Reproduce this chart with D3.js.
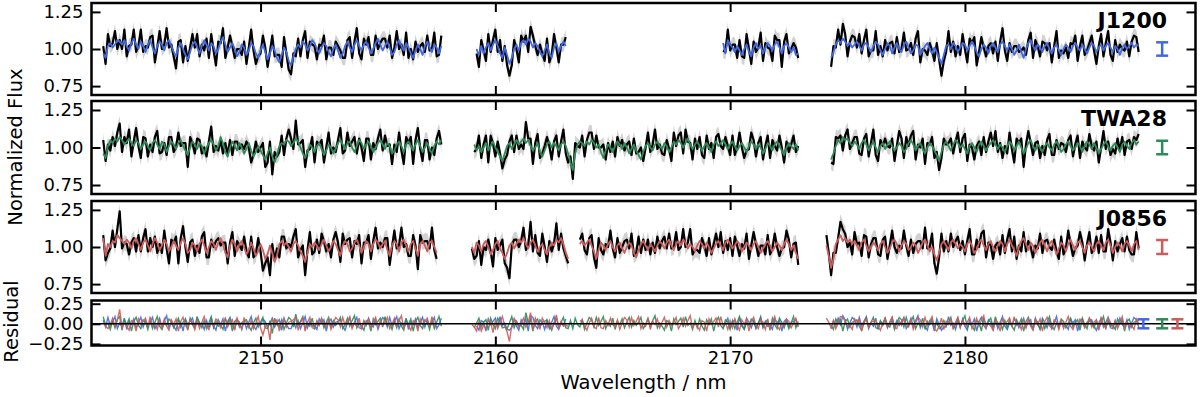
<!DOCTYPE html>
<html>
<head>
<meta charset="utf-8">
<script src="https://cdn.jsdelivr.net/npm/d3@7"></script>
<style>
  body { margin: 0; background: #fff; }
  svg { display: block; }
  text { font-family: "DejaVu Sans", sans-serif; }
</style>
</head>
<body>
<div id="chart"></div>
<script>
// spectra sampled every 0.1 nm from each segment start
// values are percent deviation from 1 (flux = 1 + v/100)
const step = 0.1;

// ---- J1200 ----
const j1200Starts = [2143.3, 2159.2, 2169.7, 2174.3];
const j1200Flux = [
  [2,-10,10,2,4,12,0,6,0,13, -5,2,3,13,-2,2,13,-2,2,1, 8,9,-9,1,12,0,3,14,1,3,
   -5,-13,5,6,-9,2,-8,1,10,1, 10,-5,3,-1,7,-6,10,-1,-11,5, 4,14,-6,1,9,2,-6,0,0,-4,
   5,-10,1,13,-1,-10,-5,-3,9,1, -12,-2,9,-5,-4,-4,-12,8,-3,-14, -17,-3,-5,7,-5,6,12,-6,5,3,
   2,-7,3,2,9,-7,1,1,-4,5, 2,-1,-6,-6,6,8,-6,5,14,-3, -7,7,3,8,-4,-4,9,0,4,7,
   7,1,9,-6,1,12,0,3,-4,11, -6,0,-7,5,-2,2,4,-2,9,-1, 0,11,-5,-4,9],
  [-3,-12,6,-1,-8,10,-2,6,13,-2, 6,-8,2,-11,-18,-11,6,0,-9,9, 5,9,-2,15,9,2,-4,3,-3,-8,
   7,-9,-4,10,1,-9,3,3,8],
  [-1,-2,13,-1,3,3,-6,6,-5,-6, 10,0,-10,5,-2,1,11,-8,4,1, 0,-8,9,6,6,-12,5,10,-3,0, 4,1,-6],
  [-12,2,1,13,3,17,10,-5,5,9, 8,1,10,-3,6,13,-5,-1,-1,12, -4,2,-5,6,-1,4,5,-3,8,-2,
   0,11,-1,0,4,-4,7,12,-9,0, -1,-4,4,-1,-8,4,-7,-18,-8,-2, 12,-2,5,-5,2,-4,10,0,-9,7,
   4,8,-11,-2,8,1,-5,2,4,-3, 5,-8,5,14,-1,-8,4,-2,2,2, -2,-1,1,-4,6,11,-6,6,2,-5,
   5,4,-1,4,-9,2,12,-6,-1,-3, 1,-6,4,3,9,-8,2,9,-4,-1, 4,9,-1,-10,2,10,-5,4,12,-4,
   -8,6,-2,3,0,-1,5,-5,5,9, 8,-2]
];
const j1200Model = [
  [-3,-6,2,4,1,3,6,5,3,6, 2,-1,4,7,3,0,5,2,-2,3, 6,1,-3,2,5,3,-1,4,6,2,
   -2,-5,1,4,0,-4,-7,-2,3,5, 1,-3,2,6,3,-1,4,2,-3,0, 5,8,3,-2,1,4,0,-5,-2,3,
   1,-4,-1,4,2,-3,-6,-1,3,-2, -7,-3,2,-1,-6,-9,-4,1,-2,-8, -11,-5,0,3,1,5,3,-1,2,6,
   4,0,-3,1,4,2,-2,-5,0,3, -1,-6,-3,2,5,1,-2,3,6,2, -1,3,5,1,-3,0,4,7,3,-1,
   2,5,1,-4,-2,3,6,2,-1,4, 1,-3,-6,-1,3,0,-4,2,5,1, -2,3,1,-3,2],
  [0,-4,2,-3,1,4,-1,3,6,2, -3,-6,1,-4,-10,-6,0,3,-1,4, 6,3,7,5,1,4,2,-2,-5,-1,
   3,-3,-6,1,4,-2,2,5,2],
  [4,-3,6,3,1,-2,2,-1,-4,0, 3,-2,-5,1,4,0,2,-3,1,4, 2,-1,3,5,1,-3,2,4,1,-2, 1,-4,-3],
  [-6,-2,3,6,4,7,5,2,4,1, 3,5,2,-1,3,4,1,-2,2,5, 3,-1,-4,0,4,2,-3,1,4,0,
   -2,3,5,1,-3,-1,3,2,-4,-1, 2,4,0,-3,1,-2,-6,-10,-4,2, 3,0,4,2,-2,1,4,3,-1,2,
   5,2,-2,-5,0,3,1,-3,2,4, 1,-2,3,5,2,-1,3,0,-4,-1, 3,-2,-6,0,4,6,2,-1,3,1,
   -2,2,4,0,-3,1,3,-1,-4,0, 3,1,-2,2,4,1,-1,3,0,-3, 1,4,2,-2,1,3,-1,2,4,1,
   -2,2,0,-4,1,3,0,2,4,1, 3,2]
];

// ---- TWA28 ----
const twa28Starts = [2143.3, 2159.1, 2174.3];
const twa28Flux = [
  [5,-9,2,-2,7,1,10,16,-3,7, 3,12,-6,4,13,1,-7,7,6,-6, 2,-3,7,11,-4,-3,3,-5,7,7,
   -3,0,10,1,3,3,-13,7,3,-4, 6,5,-4,0,-6,4,14,-3,1,-2, 5,-4,3,-5,5,-5,4,4,-1,2,
   -1,4,0,-10,-5,4,-3,0,3,-13, -10,4,-18,-3,-6,-3,8,-5,6,12, 6,-1,18,2,3,5,-13,-2,-1,7,
   -10,4,2,5,-10,0,10,-4,0,-3, 5,13,-4,-2,10,1,4,7,-4,6, 0,-9,6,6,-8,3,-1,6,12,-2,
   8,1,2,-11,2,-3,10,-2,-11,7, 3,7,-11,5,13,-1,-9,5,5,-8, 0,-5,6,11,2],
  [-3,-1,8,-7,2,8,-10,8,3,-6, 4,-4,-14,-8,-5,4,8,-3,8,-1, 2,-1,17,6,6,-11,3,9,-7,-4,
   1,7,1,-8,4,8,-6,4,12,-4, -10,-6,-21,3,1,0,8,-6,5,10, 10,-1,8,0,0,2,-8,3,-3,4,
   -6,7,1,5,-2,2,4,-5,6,-4, -3,0,-9,0,10,-3,2,12,-1,2, -4,-5,5,-1,-9,10,1,8,10,-4,
   12,4,3,-8,6,-1,7,-5,-7,8, -1,3,-7,7,9,1,-1,7,1,-5, 8,-5,0,10,0,-7,-2,-1,10,5,
   -6,3,7,-8,1,8,-7,5,1,-2, 8,0,-10,4,-3,2,8,-3,1],
  [-10,-11,7,6,8,-2,8,12,-1,3, 7,7,-4,-5,6,9,-6,3,12,-5, -9,5,1,6,1,0,6,-9,1,11,
   6,-7,7,1,8,11,-8,2,0,6, -11,3,2,7,-7,-3,-15,-7,6,2, 3,6,-4,4,10,-3,6,9,-9,2,
   0,-8,1,4,-5,7,-3,4,10,1, 11,-3,3,-7,1,-4,10,-1,-10,6, 3,6,-13,2,11,3,-5,3,4,-7,
   1,-5,5,9,-5,-5,5,-1,3,2, -3,5,8,-6,2,8,-7,4,0,-2, 9,1,-2,4,-10,0,11,-1,4,-5,
   -1,-4,6,-2,7,-5,4,5,-1,7, 5,9]
];
const twa28Model = [
  [-4,-7,1,5,3,6,4,7,5,2, 4,6,3,1,5,3,-1,2,4,1, -2,3,5,2,-1,4,2,-3,1,4,
   2,-1,3,5,1,-2,-5,0,4,2, -1,3,1,-4,0,3,5,2,-2,1, 7,3,-3,-6,0,4,1,-2,3,0,
   -4,-1,3,-2,-6,-3,1,-2,-5,-8, -4,0,-6,-10,-5,1,3,2,5,4, 1,3,6,4,0,-4,-7,-3,2,0,
   -3,1,3,-1,-5,-2,2,0,-4,-1, 3,5,2,-1,3,4,0,-3,1,5, 3,-1,2,4,1,-3,0,3,5,2,
   -1,3,1,-4,-2,2,4,1,-3,2, 4,1,-2,2,5,1,-3,0,3,-1, -4,1,4,2,5],
  [2,-2,1,-3,0,3,-2,1,4,0, -3,-6,-9,-4,1,3,-1,2,5,2, 4,6,3,5,1,-2,0,3,-3,-6,
   -2,2,4,0,3,1,-2,2,4,1, -4,-10,-15,-4,2,4,3,1,4,2, 5,3,0,2,-3,-7,-2,2,0,-3,
   1,4,2,-1,3,0,-4,-1,2,-2, -5,-8,-3,1,3,0,-2,2,4,1, -1,3,1,-3,0,4,2,5,3,0,
   3,6,2,-1,2,4,1,-2,1,3, 0,-3,2,4,1,3,5,2,-1,2, 4,1,-2,1,3,0,-3,1,4,2,
   -1,2,0,-4,-1,3,1,-2,2,4, 1,-2,-5,0,3,1,-1,2,-2],
  [-8,-4,1,5,3,7,5,6,3,1, 4,2,-1,3,5,2,-2,1,4,0, -3,1,3,-1,2,4,1,-2,0,3,
   1,-3,-1,3,5,2,-2,1,3,-1, -4,0,3,1,-2,-5,-9,-3,2,4, 1,-2,2,5,3,0,2,-1,-4,1,
   3,0,-3,2,4,1,-2,1,3,5, 2,-1,2,0,-3,1,4,2,-2,1, 4,0,-4,-1,3,5,1,-2,2,0,
   -3,1,3,0,-2,2,4,1,-3,-1, 2,4,1,-2,0,3,1,-3,1,4, 2,-1,3,0,-4,-1,2,4,1,-2,
   1,3,0,-3,2,4,1,-1,3,5, 2,4]
];

// ---- J0856 ----
const j0856Starts = [2143.3, 2159.0, 2163.6, 2174.1];
const j0856Flux = [
  [8,-9,-4,-1,11,0,12,24,-1,3, 2,-5,3,6,-3,8,-3,6,12,-3, 6,0,7,-4,2,-4,11,-1,-11,5,
   3,7,-11,6,14,0,-10,3,5,-6, 1,-4,7,10,-7,-7,5,0,4,6, 1,3,3,-11,3,10,-6,4,1,-2,
   7,-3,-7,7,-7,-5,6,-3,-16,-11, -7,-19,2,-9,-1,-7,7,7,-1,2, 0,7,12,-7,-2,1,-19,-2,10,-5,
   -3,5,-4,9,4,-3,2,-7,5,10, 3,-10,9,2,5,6,-7,4,2,8, -11,3,3,8,-8,4,13,-1,3,0,
   6,6,-12,0,11,-1,1,13,0,2, -6,-6,8,1,-15,8,3,4,4,-1, 13,-2,-8],
  [-1,-8,-6,4,-12,0,-2,5,-3,-13, 6,-2,1,5,-11,-14,-21,1,5,5, 0,4,13,-2,1,17,-3,8,-4,-6,
   9,0,-10,4,-3,2,16,-2,9,-1, -6,-11],
  [5,9,-2,-5,6,8,-7,-14,6,-2, -5,2,0,11,-1,-7,6,-4,0,4, 5,-1,9,-6,-4,7,-4,5,-2,5,
   -5,3,-4,7,-1,4,7,-1,9,-1, 0,10,-2,0,12,0,3,12,-5,-2, -2,-4,6,1,-6,6,-5,2,9,0,
   10,-4,4,-2,6,-6,7,1,-6,2, -1,9,-8,1,10,2,-6,1,1,-5, 8,-5,-1,9,0,-6,-1,0,11,5,
   -7,2,3,-12],
  [8,-4,-19,-4,-4,6,17,12,9,0, 3,-5,10,2,3,-6,8,7,-7,2, 6,6,-5,-6,5,7,-8,1,11,0,
   -4,1,-1,11,1,-6,5,-4,2,4, 4,-1,13,-1,0,9,-11,-18,-7,9, -3,4,-3,9,0,4,7,-2,4,-5,
   4,12,-5,-5,5,0,9,11,-7,3, 1,-8,1,3,-5,8,-4,5,12,-3, 7,-8,1,-3,10,-3,4,0,-7,1,
   -1,9,-4,4,5,0,-2,5,-3,-8, 7,-5,-1,11,2,-6,-1,1,10,3, -9,2,10,-4,-1,7,-4,8,-3,-3,
   12,3,-9,4,-3,2,6,-3,7,-2, -5,-5,10,-1]
];
const j0856Model = [
  [6,-6,2,0,4,3,8,6,4,2, 5,3,-1,4,6,2,-2,3,5,1, -3,2,6,3,-2,1,5,2,-3,0,
   4,1,-2,3,6,2,-4,-2,3,1, -3,2,5,1,-4,0,4,2,-2,3, 6,2,-4,-7,1,5,2,-3,2,4,
   0,-5,-2,3,-1,-6,-3,2,-2,-8, -5,1,-4,-10,-6,2,4,1,3,0, -3,2,4,1,-3,-6,-10,-4,2,0,
   3,1,-2,2,5,1,-3,0,4,2, -2,-6,1,4,2,-3,-1,3,5,1, -4,0,4,2,-3,2,5,3,-1,2,
   4,-2,-6,1,4,2,-3,3,5,1, -3,2,4,-1,-6,2,4,1,-3,3, 4,0,-4],
  [0,-4,3,1,-3,2,4,0,-5,-2, 2,4,-1,-4,-8,-4,1,3,-1,2, 5,3,6,2,-1,3,5,1,-3,0,
   2,-2,-5,0,3,1,5,3,6,2, -4,-8],
  [2,4,1,3,5,1,-3,-8,-2,3, 1,-2,2,4,0,-3,1,3,-1,-4, 0,3,1,-4,-7,-2,2,4,1,-2,
   2,0,-3,1,4,2,-1,3,5,1, -2,2,4,1,5,3,-1,2,0,-3, 1,4,2,-1,3,0,-4,-1,2,4,
   1,-2,3,5,2,-1,1,4,2,-3, 0,3,1,-2,2,4,0,-4,-1,2, 4,1,-3,0,3,1,-2,2,5,2,
   -2,1,-4,-8],
  [1,-6,-14,-8,2,5,8,4,6,3, 5,2,4,1,-2,3,5,1,-3,0, 3,1,-2,2,4,0,-4,-1,3,5,
   2,-3,1,4,2,-2,0,3,1,-4, -1,3,5,1,-3,0,-5,-9,-4,2, 4,1,-2,3,5,2,-1,2,0,-3,
   2,4,1,-4,-2,3,5,1,-2,2, 4,0,-3,1,4,2,-3,2,5,1, -2,-6,0,4,6,2,-2,3,1,-4,
   0,3,5,1,-3,2,4,0,-5,-1, 3,1,-3,2,5,1,-2,3,4,0, -4,1,3,0,-3,2,4,1,-2,3,
   5,1,-4,0,3,1,-3,2,4,1, -3,2,4,-2]
];

// typical uncertainties read from the error bar glyphs and the grey bands
const names = ["J1200", "TWA28", "J0856"];
const bandErr = [0.05, 0.05, 0.052];
const fluxBarErr = [0.045, 0.045, 0.047];
const resBarErr = [0.056, 0.056, 0.056];
const fluxBarWave = 2188.4;
const resBarWaves = [2187.6, 2188.4, 2189.05];

const xTicks = [2150, 2160, 2170, 2180];
const fluxTicks = [0.75, 1.00, 1.25];
const resTicks = [-0.25, 0.00, 0.25];

const colors = ["#4169e1", "#2e8b57", "#cd5c5c"];

// build segment tables
function buildSegs(starts, flux, model) {
  return starts.map((s, k) => {
    const n = Math.min(flux[k].length, model[k].length);
    return d3.range(n).map(i => ({
      w: s + i * step,
      f: 1 + flux[k][i] / 100,
      m: 1 + model[k][i] / 100,
      r: (flux[k][i] - model[k][i]) / 100
    }));
  });
}
const objects = [
  buildSegs(j1200Starts, j1200Flux, j1200Model),
  buildSegs(twa28Starts, twa28Flux, twa28Model),
  buildSegs(j0856Starts, j0856Flux, j0856Model)
];

const width = 1200, height = 397;
const left = 91.5, right = 1195.5;
const panels = [
  { top: 3, bottom: 95 },
  { top: 101, bottom: 194 },
  { top: 201, bottom: 293 }
];
const resPanel = { top: 300.5, bottom: 345.5 };

const svg = d3.select("#chart").append("svg")
  .attr("width", width).attr("height", height);

const x = d3.scaleLinear().domain([2142.8, 2189.82]).range([left, right]);

const defs = svg.append("defs");
function clipFor(id, p) {
  defs.append("clipPath").attr("id", id)
    .append("rect").attr("x", left).attr("y", p.top)
    .attr("width", right - left).attr("height", p.bottom - p.top);
  return `url(#${id})`;
}

function frameAxes(p, y, yTicks, showX) {
  const g = svg.append("g");
  g.append("g").attr("transform", `translate(0,${p.bottom})`)
    .call(d3.axisBottom(x).tickValues(xTicks).tickSize(-9).tickPadding(6)
      .tickFormat(showX ? d3.format("d") : ""));
  g.append("g").attr("transform", `translate(0,${p.top})`)
    .call(d3.axisTop(x).tickValues(xTicks).tickSize(-9).tickFormat(""));
  g.append("g").attr("transform", `translate(${left},0)`)
    .call(d3.axisLeft(y).tickValues(yTicks).tickSize(-9).tickPadding(8).tickFormat(d3.format(".2f")));
  g.append("g").attr("transform", `translate(${right},0)`)
    .call(d3.axisRight(y).tickValues(yTicks).tickSize(-9).tickFormat(""));
  g.selectAll(".domain").remove();
  g.selectAll(".tick line").attr("stroke", "#000").attr("stroke-width", 2);
  g.selectAll(".tick text").attr("font-size", 18).attr("fill", "#000")
    .attr("font-family", "DejaVu Sans");
  svg.append("rect").attr("x", left).attr("y", p.top)
    .attr("width", right - left).attr("height", p.bottom - p.top)
    .attr("fill", "none").attr("stroke", "#000").attr("stroke-width", 2.5);
}

function errBar(g, xv, yc, e, y, color) {
  const cx = x(xv), y1 = y(yc + e), y2 = y(yc - e);
  g.append("line").attr("x1", cx).attr("x2", cx).attr("y1", y1).attr("y2", y2)
    .attr("stroke", color).attr("stroke-width", 2.5);
  [y1, y2].forEach(yy => g.append("line")
    .attr("x1", cx - 6).attr("x2", cx + 6).attr("y1", yy).attr("y2", yy)
    .attr("stroke", color).attr("stroke-width", 2.5));
}

// flux panels
objects.forEach((segs, k) => {
  const p = panels[k];
  const y = d3.scaleLinear().domain([0.69, 1.31]).range([p.bottom, p.top]);
  const g = svg.append("g").attr("clip-path", clipFor("c" + k, p));
  const band = d3.area().x(d => x(d.w))
    .y0(d => y(d.f - bandErr[k])).y1(d => y(d.f + bandErr[k]));
  const dataLine = d3.line().x(d => x(d.w)).y(d => y(d.f));
  const modelLine = d3.line().x(d => x(d.w)).y(d => y(d.m));
  segs.forEach(s => {
    g.append("path").datum(s).attr("d", band).attr("fill", "#d2d2d2");
  });
  segs.forEach(s => {
    g.append("path").datum(s).attr("d", dataLine)
      .attr("fill", "none").attr("stroke", "#000").attr("stroke-width", 2.2)
      .attr("stroke-linejoin", "round");
  });
  segs.forEach(s => {
    g.append("path").datum(s).attr("d", modelLine)
      .attr("fill", "none").attr("stroke", colors[k]).attr("stroke-width", 1.8)
      .attr("stroke-linejoin", "round");
  });
  errBar(svg.append("g"), fluxBarWave, 1.0, fluxBarErr[k], y, colors[k]);
  frameAxes(p, y, fluxTicks, false);
  svg.append("text").attr("x", 1167).attr("y", p.top + 25)
    .attr("text-anchor", "end").attr("font-size", 22).attr("font-weight", "bold")
    .text(names[k]);
});

// residual panel
const yr = d3.scaleLinear().domain([-0.27, 0.29]).range([resPanel.bottom, resPanel.top]);
const gr = svg.append("g").attr("clip-path", clipFor("cr", resPanel));
const resLine = d3.line().x(d => x(d.w)).y(d => yr(d.r));
objects.forEach((segs, k) => {
  segs.forEach(s => {
    gr.append("path").datum(s).attr("d", resLine)
      .attr("fill", "none").attr("stroke", colors[k]).attr("stroke-width", 1.4)
      .attr("stroke-opacity", 0.9);
  });
});
gr.append("line").attr("x1", left).attr("x2", right)
  .attr("y1", yr(0)).attr("y2", yr(0)).attr("stroke", "#000").attr("stroke-width", 1.5);
objects.forEach((segs, k) => errBar(svg.append("g"), resBarWaves[k], 0, resBarErr[k], yr, colors[k]));
frameAxes(resPanel, yr, resTicks, true);

// axis labels
svg.append("text").attr("x", (left + right) / 2).attr("y", 389)
  .attr("text-anchor", "middle").attr("font-size", 19.5).text("Wavelength / nm");
svg.append("text").attr("transform", "translate(22,147) rotate(-90)")
  .attr("text-anchor", "middle").attr("font-size", 19.5).text("Normalized Flux");
svg.append("text").attr("transform", "translate(18,321.5) rotate(-90)")
  .attr("text-anchor", "middle").attr("font-size", 19.5).text("Residual");
</script>
</body>
</html>
